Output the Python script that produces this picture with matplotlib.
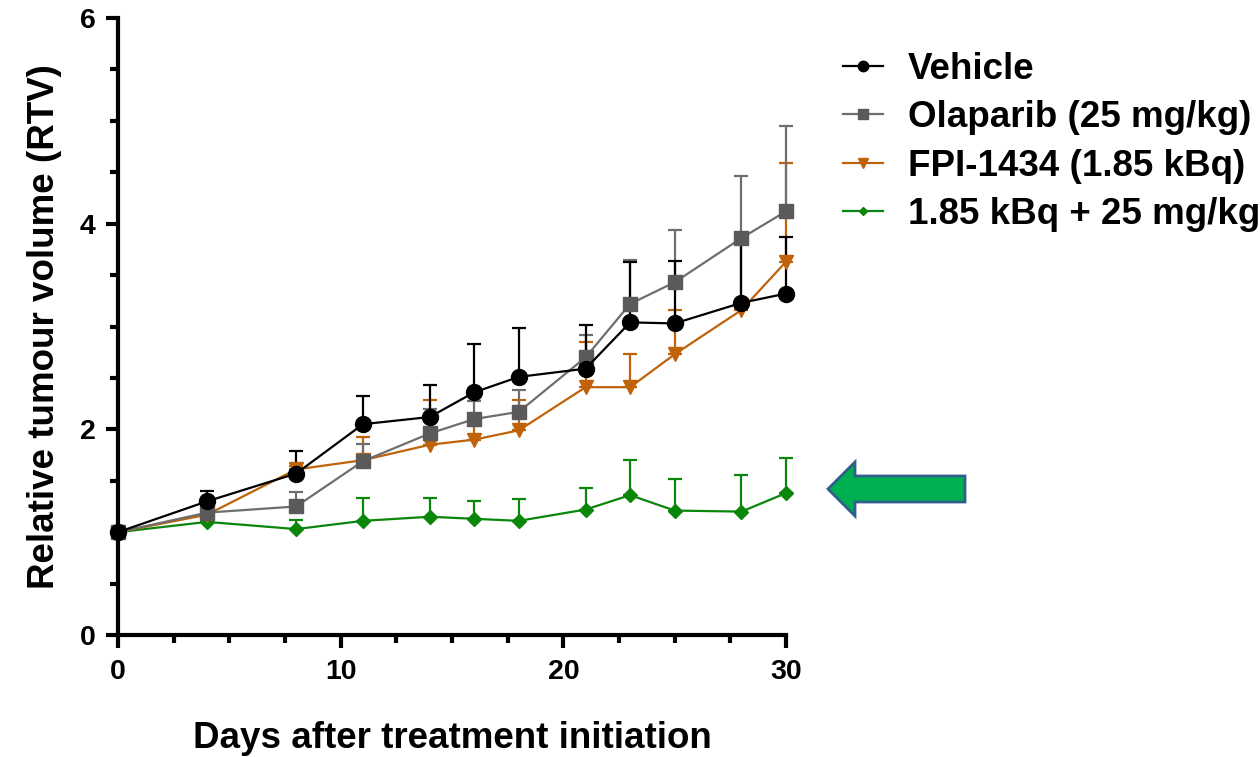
import numpy as np
import matplotlib
matplotlib.use('Agg')
import matplotlib.pyplot as plt
from matplotlib.lines import Line2D
from matplotlib.patches import Polygon

plt.rcParams['font.family'] = ['Liberation Sans', 'DejaVu Sans']
plt.rcParams['font.weight'] = 'bold'

days = [0, 4, 8, 11, 14, 16, 18, 21, 23, 25, 28, 30]

vehicle = [1.0, 1.30, 1.57, 2.05, 2.12, 2.36, 2.51, 2.59, 3.04, 3.03, 3.23, 3.32]
vehicle_top = [1.0, 1.40, 1.79, 2.32, 2.43, 2.83, 2.99, 3.01, 3.63, 3.64, 3.81, 3.87]

olaparib = [1.0, 1.19, 1.25, 1.69, 1.96, 2.10, 2.17, 2.70, 3.22, 3.43, 3.86, 4.12]
olaparib_top = [1.0, 1.22, 1.39, 1.86, 2.20, 2.28, 2.38, 2.92, 3.65, 3.94, 4.46, 4.95]

fpi = [1.0, 1.17, 1.61, 1.70, 1.85, 1.90, 1.99, 2.41, 2.41, 2.73, 3.16, 3.63]
fpi_top = [1.0, 1.20, 1.64, 1.93, 2.29, 2.10, 2.29, 2.85, 2.73, 3.16, 3.91, 4.59]

combo = [1.0, 1.10, 1.03, 1.11, 1.15, 1.13, 1.11, 1.22, 1.36, 1.21, 1.20, 1.38]
combo_top = [1.0, 1.13, 1.12, 1.33, 1.33, 1.30, 1.32, 1.43, 1.70, 1.52, 1.56, 1.72]

labels = ['Vehicle', 'Olaparib (25 mg/kg)', 'FPI-1434 (1.85 kBq)', '1.85 kBq + 25 mg/kg']

# drawn bottom to top
series = [
    (combo, combo_top, '#0a860a', '#0a860a', 'D', 7, labels[3]),
    (fpi, fpi_top, '#c0620a', '#c0620a', 'v', 10, labels[2]),
    (olaparib, olaparib_top, '#6e6e6e', '#5a5a5a', 's', 10, labels[1]),
    (vehicle, vehicle_top, 'black', 'black', 'o', 11.5, labels[0]),
]

fig = plt.figure(figsize=(12.6, 7.57), dpi=100)
ax = fig.add_axes([118 / 1260, 122 / 757, 668 / 1260, 617 / 757])

for vals, top, lc, mc, mk, ms, lab in series:
    vals = np.array(vals)
    err = np.array(top) - vals
    ax.errorbar(days, vals, yerr=[np.zeros_like(err), err], color=lc,
                marker=mk, markersize=ms, markerfacecolor=mc, markeredgecolor=mc,
                linewidth=1.6, elinewidth=1.6, capsize=5, capthick=1.6,
                clip_on=False)

ax.set_xlim(0, 30)
ax.set_ylim(0, 6)
ax.set_xticks([0, 10, 20, 30])
ax.set_xticks(np.arange(0, 30.1, 2.5), minor=True)
ax.set_yticks([0, 2, 4, 6])
ax.set_yticks(np.arange(0, 6.1, 0.5), minor=True)
for s in ['top', 'right']:
    ax.spines[s].set_visible(False)
for s in ['left', 'bottom']:
    ax.spines[s].set_linewidth(3)
ax.tick_params(which='major', length=9, width=3, labelsize=20.5)
ax.tick_params(axis='x', which='major', pad=8)
ax.tick_params(axis='y', which='major', pad=7)
ax.tick_params(which='minor', length=6, width=3)
for t in ax.get_xticklabels() + ax.get_yticklabels():
    t.set_fontweight('bold')

ax.set_xlabel('Days after treatment initiation', fontsize=26.5, fontweight='bold', labelpad=26)
ax.set_ylabel('Relative tumour volume (RTV)', fontsize=26.5, fontweight='bold', labelpad=13)

handles = []
for vals, top, lc, mc, mk, ms, lab in series[::-1]:
    handles.append(Line2D([], [], color=lc, marker=mk, markersize=ms * 0.65,
                          markerfacecolor=mc, markeredgecolor=mc, linewidth=1.6))
fig.legend(handles, labels, loc='upper left', bbox_to_anchor=(843 / 1260, 1 - 52 / 757),
           frameon=False, prop={'size': 26.5, 'weight': 'bold'}, handlelength=1.09,
           handletextpad=0.68, labelspacing=0.36, borderaxespad=0, borderpad=0)

# green arrow pointing at the combination group
W, H = 1260, 757
arrow_px = [(828, 489), (855, 462), (855, 476), (965, 476), (965, 502), (855, 502), (855, 516)]
arrow = Polygon([(x / W, 1 - y / H) for x, y in arrow_px], closed=True,
                transform=fig.transFigure, facecolor='#00b050', edgecolor='#2f5f8a',
                linewidth=2)
fig.patches.append(arrow)

fig.savefig('out.png', dpi=100)
